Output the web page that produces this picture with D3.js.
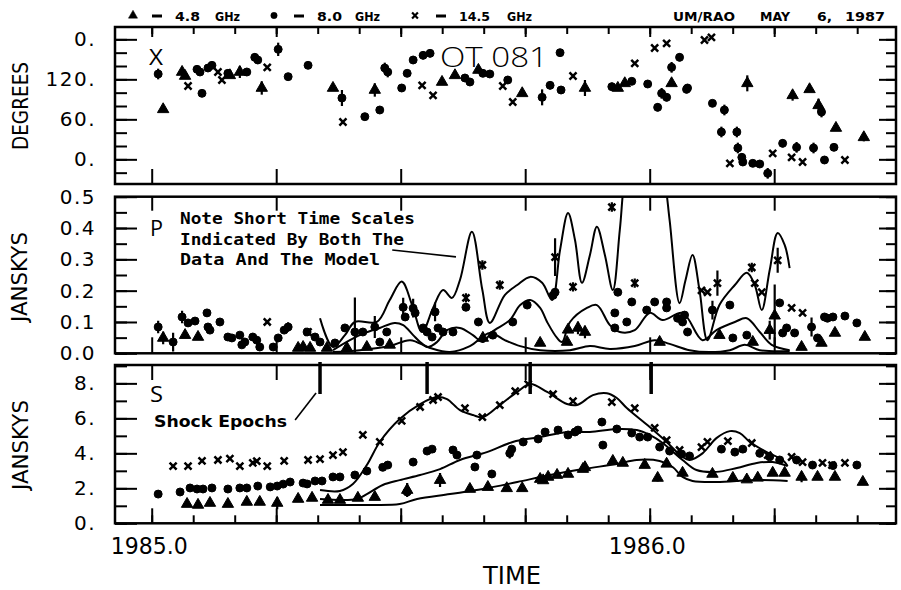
<!DOCTYPE html>
<html>
<head>
<meta charset="utf-8">
<script src="https://cdn.jsdelivr.net/npm/d3@7"></script>
<style>
  body { margin: 0; background: #fff; }
  svg { display: block; }
</style>
</head>
<body>
<div id="chart"></div>
<script>
// ---------- data (time in decimal years) ----------
const shockEpochs = [1985.338, 1985.553, 1985.760, 1986.003];

// x axis ticks
const monthTicks = d3.range(18).map(i => 1985 + i / 12);
const quarterTicks = [1985, 1985.25, 1985.5, 1985.75, 1986, 1986.25];
const yearTicks = [1985, 1986];
const yearLabels = ["1985.0", "1986.0"];

// y axis ticks
const degMinor = [-20, 0, 20, 40, 60, 80, 100, 120, 140, 160, 180];
const degMajor = [0, 60, 120, 180];
const degLabels = ["0.", "60.", "120.", "0."];
const polMinor = [0, 0.05, 0.1, 0.15, 0.2, 0.25, 0.3, 0.35, 0.4, 0.45, 0.5];
const polMajor = [0, 0.1, 0.2, 0.3, 0.4, 0.5];
const polLabels = ["0.0", "0.1", "0.2", "0.3", "0.4", "0.5"];
const fluxMinor = [0, 1, 2, 3, 4, 5, 6, 7, 8, 9];
const fluxMajor = [0, 2, 4, 6, 8];
const fluxLabels = ["0.", "2.", "4.", "6.", "8."];

// position angle (degrees): [time, value, error]
const evpa48 = [
  [1985.023, 75], [1985.061, 131], [1985.067, 125], [1985.157, 126], [1985.177, 131, 9],
  [1985.221, 107, 10], [1985.364, 107], [1985.448, 104, 10], [1985.583, 116], [1985.609, 126],
  [1985.656, 134], [1985.744, 99], [1985.870, 107, 12], [1985.936, 107], [1985.950, 114],
  [1986.044, 114], [1986.196, 114, 12], [1986.287, 96, 8], [1986.321, 105], [1986.339, 81, 10],
  [1986.374, 47], [1986.430, 33, 6]
];
const evpa80 = [
  [1985.013, 128, 8], [1985.091, 135, 5], [1985.097, 131, 5], [1985.101, 99, 5], [1985.113, 137, 5],
  [1985.121, 141, 5], [1985.153, 129, 5], [1985.191, 131], [1985.207, 153, 6], [1985.213, 149, 6],
  [1985.254, 165, 10], [1985.274, 124, 5], [1985.314, 141, 5], [1985.382, 92, 12], [1985.428, 64, 5],
  [1985.458, 74, 5], [1985.468, 137, 8], [1985.474, 131, 8], [1985.502, 107, 5], [1985.513, 129, 5],
  [1985.525, 149, 6], [1985.545, 156, 6], [1985.559, 159, 6], [1985.629, 122, 6], [1985.639, 116, 5],
  [1985.665, 129, 5], [1985.679, 128, 5], [1985.715, 119, 6], [1985.784, 93, 12], [1985.800, 111, 6],
  [1985.820, 160], [1985.822, 104, 6], [1985.924, 109, 6], [1985.964, 117, 5], [1985.996, 113, 5],
  [1986.016, 78, 6], [1986.024, 99, 8], [1986.034, 93, 6], [1986.044, 138, 8], [1986.060, 153, 6],
  [1986.074, 105, 6], [1986.076, 107, 6], [1986.126, 84, 5], [1986.144, 41, 8], [1986.150, 74, 8],
  [1986.175, 41, 8], [1986.177, 17, 8], [1986.185, 3, 6], [1986.187, -4, 6], [1986.207, -6, 5],
  [1986.221, -7, 5], [1986.237, -21, 8], [1986.267, 24, 6], [1986.295, 18, 8], [1986.329, 17, 8],
  [1986.345, 71, 8], [1986.351, -1, 5], [1986.370, 18, 5]
];
const evpa145 = [
  [1985.073, 110], [1985.133, 131], [1985.141, 119], [1985.232, 138], [1985.384, 56],
  [1985.543, 111], [1985.565, 96], [1985.705, 110], [1985.725, 86], [1985.846, 125],
  [1985.970, 144], [1986.010, 167], [1986.034, 174], [1986.110, 179], [1986.124, 183],
  [1986.161, -6], [1986.247, 9], [1986.285, 3], [1986.307, -4], [1986.392, -1]
];

// polarized flux (Jy)
const pol48 = [
  [1985.023, 0.049, 0.02], [1985.067, 0.058], [1985.093, 0.052], [1985.294, 0.017], [1985.304, 0.020],
  [1985.318, 0.017], [1985.352, 0.017], [1985.392, 0.017], [1985.432, 0.020], [1985.478, 0.027],
  [1985.665, 0.049], [1985.780, 0.033], [1985.834, 0.036], [1985.836, 0.075], [1985.856, 0.081, 0.02],
  [1985.870, 0.068, 0.02], [1986.020, 0.036], [1986.140, 0.058], [1986.207, 0.036], [1986.241, 0.074, 0.03],
  [1986.251, 0.120, 0.10], [1986.305, 0.020], [1986.345, 0.033], [1986.372, 0.065], [1986.432, 0.052]
];
const pol80 = [
  [1985.013, 0.084, 0.02], [1985.043, 0.036, 0.03], [1985.061, 0.116, 0.02], [1985.073, 0.097], [1985.087, 0.103],
  [1985.111, 0.129, 0.01], [1985.113, 0.084], [1985.117, 0.074], [1985.137, 0.100, 0.01], [1985.153, 0.052],
  [1985.161, 0.049], [1985.177, 0.058], [1985.181, 0.027], [1985.187, 0.036], [1985.203, 0.052],
  [1985.211, 0.042], [1985.217, 0.020], [1985.244, 0.020], [1985.254, 0.049], [1985.266, 0.074],
  [1985.274, 0.084, 0.015], [1985.312, 0.068], [1985.328, 0.052], [1985.338, 0.036], [1985.368, 0.033],
  [1985.388, 0.081], [1985.408, 0.068, 0.11], [1985.424, 0.068], [1985.448, 0.084, 0.035], [1985.458, 0.036],
  [1985.472, 0.068], [1985.505, 0.147, 0.03], [1985.509, 0.116], [1985.525, 0.144, 0.03], [1985.529, 0.129],
  [1985.545, 0.081], [1985.553, 0.068], [1985.563, 0.052], [1985.569, 0.132, 0.03], [1985.575, 0.081],
  [1985.585, 0.068], [1985.605, 0.068], [1985.631, 0.147], [1985.656, 0.100], [1985.685, 0.058],
  [1985.725, 0.100], [1985.754, 0.154], [1985.806, 0.185], [1985.810, 0.195], [1985.930, 0.081],
  [1985.930, 0.129], [1985.936, 0.195], [1985.954, 0.100], [1985.964, 0.164], [1985.994, 0.138],
  [1986.010, 0.164], [1986.034, 0.164], [1986.034, 0.145], [1986.056, 0.112], [1986.066, 0.100],
  [1986.070, 0.122], [1986.076, 0.068], [1986.126, 0.138, 0.03], [1986.161, 0.154], [1986.167, 0.049],
  [1986.195, 0.058], [1986.261, 0.161], [1986.267, 0.065], [1986.275, 0.081], [1986.291, 0.065],
  [1986.325, 0.084, 0.03], [1986.337, 0.049], [1986.351, 0.116], [1986.357, 0.112], [1986.368, 0.116],
  [1986.392, 0.119], [1986.416, 0.097]
];
const pol145 = [
  [1985.232, 0.100], [1985.314, 0.068], [1985.631, 0.177, 0.015], [1985.664, 0.282, 0.015], [1985.699, 0.218, 0.015],
  [1985.810, 0.307, 0.06], [1985.846, 0.212, 0.015], [1985.924, 0.467, 0.015], [1985.970, 0.224, 0.015],
  [1986.104, 0.201], [1986.116, 0.195], [1986.136, 0.224, 0.04], [1986.205, 0.274, 0.015],
  [1986.211, 0.224], [1986.225, 0.195], [1986.257, 0.297, 0.04], [1986.285, 0.145], [1986.307, 0.129]
];

// polarized flux model curves
const polModel145 = [
  [1985.338, 0.112], [1985.364, 0.020], [1985.388, 0.058], [1985.408, 0.100], [1985.452, 0.100],
  [1985.478, 0.170], [1985.502, 0.229], [1985.523, 0.154], [1985.543, 0.068], [1985.565, 0.145],
  [1985.585, 0.202], [1985.603, 0.177], [1985.619, 0.234], [1985.643, 0.388], [1985.664, 0.202],
  [1985.679, 0.097], [1985.709, 0.186], [1985.734, 0.218], [1985.760, 0.244], [1985.784, 0.225],
  [1985.804, 0.170], [1985.820, 0.330], [1985.836, 0.448], [1985.850, 0.362], [1985.864, 0.225],
  [1985.880, 0.314], [1985.894, 0.404], [1985.910, 0.314], [1985.926, 0.202], [1985.940, 0.394],
  [1985.952, 0.585], [1985.980, 0.745], [1986.010, 0.680], [1986.030, 0.553], [1986.040, 0.425],
  [1986.060, 0.160], [1986.072, 0.234], [1986.086, 0.314], [1986.100, 0.202], [1986.116, 0.042],
  [1986.140, 0.154], [1986.171, 0.218], [1986.195, 0.257], [1986.211, 0.218], [1986.225, 0.138],
  [1986.241, 0.266], [1986.257, 0.384], [1986.271, 0.346], [1986.281, 0.272]
];
const polModel80 = [
  [1985.364, 0.010], [1985.398, 0.042], [1985.428, 0.065], [1985.458, 0.081], [1985.488, 0.097],
  [1985.505, 0.090], [1985.525, 0.058], [1985.539, 0.036], [1985.555, 0.020], [1985.573, 0.036],
  [1985.593, 0.074], [1985.619, 0.081], [1985.645, 0.058], [1985.665, 0.036], [1985.683, 0.068],
  [1985.719, 0.106], [1985.740, 0.154], [1985.760, 0.170], [1985.780, 0.145], [1985.794, 0.100],
  [1985.814, 0.049], [1985.824, 0.036], [1985.840, 0.100], [1985.874, 0.145], [1985.894, 0.154],
  [1985.920, 0.090], [1985.940, 0.068], [1985.970, 0.074], [1986.000, 0.129], [1986.026, 0.106],
  [1986.066, 0.129], [1986.106, 0.042], [1986.134, 0.074], [1986.171, 0.100], [1986.195, 0.112],
  [1986.221, 0.068], [1986.245, 0.027], [1986.281, 0.010]
];
const polModel48 = [
  [1985.364, 0.004], [1985.418, 0.010], [1985.478, 0.023], [1985.519, 0.042], [1985.559, 0.017],
  [1985.599, 0.004], [1985.639, 0.023], [1985.679, 0.065], [1985.709, 0.042], [1985.740, 0.023],
  [1985.780, 0.010], [1985.840, 0.010], [1985.880, 0.023], [1985.920, 0.014], [1985.970, 0.023],
  [1986.010, 0.042], [1986.040, 0.030], [1986.080, 0.010], [1986.120, 0.004], [1986.161, 0.010],
  [1986.191, 0.027], [1986.221, 0.010], [1986.281, 0.007]
];

// total flux (Jy)
const flux48 = [
  [1985.071, 1.10], [1985.093, 1.05], [1985.117, 1.16], [1985.153, 1.10], [1985.191, 1.22],
  [1985.217, 1.22], [1985.252, 1.16, 0.35], [1985.294, 1.39], [1985.322, 1.45], [1985.354, 1.33],
  [1985.378, 1.33], [1985.414, 1.45], [1985.448, 1.50], [1985.513, 1.90, 0.4], [1985.579, 2.47, 0.4],
  [1985.639, 1.96], [1985.675, 2.07], [1985.713, 2.00], [1985.744, 2.00], [1985.780, 2.53],
  [1985.786, 2.45], [1985.796, 2.65], [1985.814, 2.76], [1985.836, 2.82], [1985.866, 3.10],
  [1985.870, 3.20], [1985.926, 3.56], [1985.946, 3.45], [1985.990, 3.33], [1986.016, 2.59, 0.2],
  [1986.034, 3.40], [1986.066, 2.88], [1986.126, 2.82], [1986.167, 2.59], [1986.195, 2.50],
  [1986.217, 2.60], [1986.247, 2.88], [1986.271, 2.88], [1986.305, 2.65, 0.3], [1986.337, 2.65],
  [1986.372, 2.65], [1986.428, 2.36]
];
const flux80 = [
  [1985.013, 1.67], [1985.057, 1.79], [1985.077, 2.02], [1985.091, 1.96], [1985.103, 1.96],
  [1985.121, 2.02], [1985.153, 1.96], [1985.177, 2.02], [1985.191, 2.02], [1985.213, 2.13],
  [1985.238, 2.08], [1985.252, 2.13], [1985.264, 2.24], [1985.278, 2.36], [1985.304, 2.30],
  [1985.312, 2.25], [1985.328, 2.42], [1985.342, 2.42], [1985.364, 2.65], [1985.378, 2.65],
  [1985.408, 2.76], [1985.432, 2.99], [1985.464, 3.20], [1985.474, 3.33], [1985.513, 1.79, 0.15],
  [1985.525, 3.50], [1985.553, 4.13], [1985.563, 4.24], [1985.605, 4.19], [1985.613, 3.90],
  [1985.649, 3.22], [1985.653, 3.90], [1985.683, 2.82, 0.2], [1985.719, 4.00, 0.3], [1985.723, 4.24],
  [1985.746, 4.65], [1985.776, 4.82], [1985.790, 5.22], [1985.816, 5.33], [1985.836, 5.05],
  [1985.850, 5.22], [1985.856, 5.33], [1985.904, 5.79, 0.2], [1985.906, 4.47], [1985.934, 5.39],
  [1985.964, 5.16], [1985.980, 4.93], [1985.996, 4.93], [1986.020, 4.36], [1986.040, 4.13],
  [1986.064, 3.96], [1986.080, 3.85], [1986.144, 4.24], [1986.171, 4.07], [1986.187, 4.24],
  [1986.221, 4.00], [1986.241, 3.80], [1986.261, 3.62], [1986.295, 3.62], [1986.327, 3.33],
  [1986.368, 3.30], [1986.416, 3.33]
];
const flux145 = [
  [1985.043, 3.27], [1985.073, 3.27], [1985.101, 3.57], [1985.133, 3.62], [1985.157, 3.70],
  [1985.177, 3.27], [1985.203, 3.45], [1985.211, 3.55], [1985.232, 3.27], [1985.266, 3.57],
  [1985.314, 3.62], [1985.338, 3.67], [1985.364, 3.90], [1985.384, 4.07], [1985.424, 5.05],
  [1985.458, 4.65], [1985.502, 5.85], [1985.539, 6.65], [1985.565, 7.05], [1985.575, 7.22],
  [1985.629, 6.58], [1985.664, 6.07], [1985.699, 6.76], [1985.730, 7.56], [1985.756, 7.96],
  [1985.806, 7.39], [1985.846, 6.99], [1985.924, 6.93], [1985.970, 6.58], [1986.010, 5.45],
  [1986.034, 4.76], [1986.060, 4.19], [1986.104, 4.36], [1986.116, 4.65], [1986.157, 4.70],
  [1986.205, 4.59], [1986.237, 3.90], [1986.285, 3.79], [1986.307, 3.50], [1986.347, 3.45],
  [1986.366, 3.33], [1986.392, 3.45]
];

// total flux model curves
const fluxModel145 = [
  [1985.338, 1.90], [1985.378, 1.85], [1985.404, 2.25], [1985.432, 3.33], [1985.458, 4.65],
  [1985.498, 5.96], [1985.539, 6.82], [1985.573, 7.22], [1985.593, 7.10], [1985.619, 6.47],
  [1985.645, 6.19], [1985.665, 6.07], [1985.699, 6.76], [1985.734, 7.51], [1985.760, 7.96],
  [1985.794, 7.51], [1985.834, 6.82], [1985.854, 6.76], [1985.886, 7.33], [1985.914, 7.44],
  [1985.934, 7.16], [1985.954, 6.59], [1986.000, 5.50], [1986.034, 4.65], [1986.066, 3.79],
  [1986.080, 3.62], [1986.106, 4.00], [1986.134, 4.87], [1986.161, 5.27], [1986.181, 5.16],
  [1986.201, 4.65], [1986.235, 4.07], [1986.267, 3.62], [1986.277, 3.27]
];
const fluxModel80 = [
  [1985.338, 1.39], [1985.412, 1.39], [1985.432, 1.67], [1985.464, 2.19], [1985.498, 2.47],
  [1985.539, 2.76], [1985.579, 3.10], [1985.619, 3.62], [1985.673, 4.07], [1985.725, 4.65],
  [1985.780, 4.93], [1985.834, 5.22], [1985.880, 5.22], [1985.934, 5.39], [1985.974, 5.33],
  [1986.000, 5.05], [1986.026, 4.59], [1986.066, 3.62], [1986.094, 3.05], [1986.134, 2.94],
  [1986.175, 3.16], [1986.215, 3.45], [1986.247, 3.50], [1986.277, 3.27]
];
const fluxModel48 = [
  [1985.338, 1.05], [1985.432, 1.05], [1985.498, 1.10], [1985.533, 1.39], [1985.599, 1.67],
  [1985.665, 1.96], [1985.734, 2.36], [1985.800, 2.76], [1985.866, 3.10], [1985.934, 3.39],
  [1985.974, 3.62], [1986.020, 3.56], [1986.046, 3.22], [1986.066, 2.65], [1986.086, 2.42],
  [1986.134, 2.36], [1986.215, 2.47], [1986.277, 2.42]
];

// annotation leader lines (data units)
const noteLeader = [[1985.483, 0.330], [1985.611, 0.308]];
const shockLeader = [[1985.288, 5.90], [1985.330, 7.45]];

// ---------- drawing ----------
const W = 901, H = 590;
const svg = d3.select("#chart").append("svg")
    .attr("width", W)
    .attr("height", H)
    .attr("viewBox", [0, 0, W, H]);

svg.append("rect").attr("width", W).attr("height", H).attr("fill", "#fff");

const x = d3.scaleLinear().domain([1984.9263, 1986.4946]).range([115, 896]);

const panels = [
  {id: "deg", top: 27, bottom: 184, domain: [-37, 198.5], minor: degMinor, major: degMajor, labels: degLabels,
   topMinor: 7, topMajor: 10, bottomMinor: 0, bottomMajor: 15},
  {id: "pol", top: 196.7, bottom: 353.3, domain: [0, 0.5], minor: polMinor, major: polMajor, labels: polLabels,
   topMinor: 0, topMajor: 14, bottomMinor: 0, bottomMajor: 16},
  {id: "flux", top: 365, bottom: 523.3, domain: [0, 9.05], minor: fluxMinor, major: fluxMajor, labels: fluxLabels,
   topMinor: 0, topMajor: 15, bottomMinor: 8, bottomMajor: 15}
];

const labelFont = "'DejaVu Sans', 'Liberation Sans', sans-serif";

function styleAxis(g) {
  g.select(".domain").remove();
  g.selectAll(".tick line").attr("stroke", "#000").attr("stroke-width", 2);
  g.attr("font-family", labelFont).attr("font-size", 20);
  g.selectAll(".tick text").attr("fill", "#000").attr("letter-spacing", 1.5);
}

panels.forEach(p => {
  p.y = d3.scaleLinear().domain(p.domain).range([p.bottom, p.top]);
  const g = svg.append("g");

  // left ticks + labels
  g.append("g").attr("transform", "translate(115,0)")
      .call(d3.axisLeft(p.y).tickValues(p.minor).tickSize(-12).tickFormat(""))
      .call(styleAxis);
  g.append("g").attr("transform", "translate(115,0)")
      .call(d3.axisLeft(p.y).tickValues(p.major).tickSize(-22).tickPadding(19)
        .tickFormat((d, i) => p.labels[i]))
      .call(styleAxis);

  // right ticks
  g.append("g").attr("transform", "translate(896,0)")
      .call(d3.axisRight(p.y).tickValues(p.minor).tickSize(-10).tickFormat(""))
      .call(styleAxis);
  g.append("g").attr("transform", "translate(896,0)")
      .call(d3.axisRight(p.y).tickValues(p.major).tickSize(-17).tickFormat(""))
      .call(styleAxis);

  // top ticks
  if (p.topMinor) {
    g.append("g").attr("transform", `translate(0,${p.top})`)
        .call(d3.axisTop(x).tickValues(monthTicks).tickSize(-p.topMinor).tickFormat(""))
        .call(styleAxis);
  }
  g.append("g").attr("transform", `translate(0,${p.top})`)
      .call(d3.axisTop(x).tickValues(quarterTicks).tickSize(-p.topMajor).tickFormat(""))
      .call(styleAxis);

  // bottom ticks
  if (p.bottomMinor) {
    g.append("g").attr("transform", `translate(0,${p.bottom})`)
        .call(d3.axisBottom(x).tickValues(monthTicks).tickSize(-p.bottomMinor).tickFormat(""))
        .call(styleAxis);
  }
  g.append("g").attr("transform", `translate(0,${p.bottom})`)
      .call(d3.axisBottom(x).tickValues(quarterTicks).tickSize(-p.bottomMajor).tickFormat(""))
      .call(styleAxis);

  // clip + frame
  svg.append("clipPath").attr("id", "clip-" + p.id)
    .append("rect").attr("x", 115).attr("y", p.top).attr("width", 781).attr("height", p.bottom - p.top);
  p.plot = svg.append("g").attr("clip-path", `url(#clip-${p.id})`);

  svg.append("rect")
      .attr("x", 115).attr("y", p.top)
      .attr("width", 781).attr("height", p.bottom - p.top)
      .attr("fill", "none").attr("stroke", "#000").attr("stroke-width", 2.5);
});

// year labels under the last panel
svg.append("g").attr("transform", `translate(0,${panels[2].bottom})`)
    .call(d3.axisBottom(x).tickValues(yearTicks).tickSize(0).tickPadding(14)
      .tickFormat((d, i) => yearLabels[i]))
    .call(g => {
      g.select(".domain").remove();
      g.attr("font-family", labelFont).attr("font-size", 23);
      g.selectAll(".tick text").attr("fill", "#000").attr("dx", -3)
        .attr("textLength", 77).attr("lengthAdjust", "spacingAndGlyphs");
    });

const triSym = d3.symbol(d3.symbolTriangle, 56);
const dotSym = d3.symbol(d3.symbolCircle, 50);
const timesSym = d3.symbol(d3.symbolTimes, 34);

function drawSeries(p, data, kind) {
  const g = p.plot.append("g");
  g.selectAll("line")
    .data(data.filter(d => d[2]))
    .join("line")
      .attr("x1", d => x(d[0])).attr("x2", d => x(d[0]))
      .attr("y1", d => p.y(d[1] - d[2])).attr("y2", d => p.y(d[1] + d[2]))
      .attr("stroke", "#000").attr("stroke-width", 2.2);
  const sym = kind === "tri" ? triSym : kind === "dot" ? dotSym : timesSym;
  g.selectAll("path")
    .data(data)
    .join("path")
      .attr("transform", d => `translate(${x(d[0])},${p.y(d[1])})`)
      .attr("d", sym)
      .attr("fill", kind === "times" ? "none" : "#000")
      .attr("stroke", "#000")
      .attr("stroke-width", kind === "times" ? 2.5 : 1);
}

function drawModel(p, data) {
  p.plot.append("path")
      .datum(data)
      .attr("fill", "none")
      .attr("stroke", "#000")
      .attr("stroke-width", 2)
      .attr("d", d3.line()
        .x(d => x(d[0]))
        .y(d => p.y(d[1]))
        .curve(d3.curveCatmullRom.alpha(0.5)));
}

const [pDeg, pPol, pFlux] = panels;

drawSeries(pDeg, evpa48, "tri");
drawSeries(pDeg, evpa80, "dot");
drawSeries(pDeg, evpa145, "times");

[polModel145, polModel80, polModel48].forEach(m => drawModel(pPol, m));
drawSeries(pPol, pol48, "tri");
drawSeries(pPol, pol80, "dot");
drawSeries(pPol, pol145, "times");

[fluxModel145, fluxModel80, fluxModel48].forEach(m => drawModel(pFlux, m));
drawSeries(pFlux, flux48, "tri");
drawSeries(pFlux, flux80, "dot");
drawSeries(pFlux, flux145, "times");

// shock epoch bars
svg.append("g").selectAll("line")
  .data(shockEpochs)
  .join("line")
    .attr("x1", d => x(d)).attr("x2", d => x(d))
    .attr("y1", pFlux.top - 3).attr("y2", pFlux.top + 29)
    .attr("stroke", "#000").attr("stroke-width", 3.5);

// leader lines
svg.append("line")
    .attr("x1", x(noteLeader[0][0])).attr("y1", pPol.y(noteLeader[0][1]))
    .attr("x2", x(noteLeader[1][0])).attr("y2", pPol.y(noteLeader[1][1]))
    .attr("stroke", "#000").attr("stroke-width", 1.6);
svg.append("line")
    .attr("x1", x(shockLeader[0][0])).attr("y1", pFlux.y(shockLeader[0][1]))
    .attr("x2", x(shockLeader[1][0])).attr("y2", pFlux.y(shockLeader[1][1]))
    .attr("stroke", "#000").attr("stroke-width", 1.6);

// ---------- text ----------
function label(txt, px, py, opts = {}) {
  const t = svg.append("text")
      .attr("x", px).attr("y", py)
      .attr("font-family", opts.family || labelFont)
      .attr("font-size", opts.size || 12)
      .attr("font-weight", opts.weight || "normal")
      .attr("text-anchor", opts.anchor || "start")
      .attr("fill", "#000")
      .text(txt);
  if (opts.len) t.attr("textLength", opts.len).attr("lengthAdjust", "spacingAndGlyphs");
  if (opts.rotate) t.attr("transform", `rotate(-90,${px},${py})`);
  return t;
}

// legend row
const legendSyms = [
  [133, d3.symbol(d3.symbolTriangle, 36), "#000"],
  [274, d3.symbol(d3.symbolCircle, 32), "#000"],
  [415, d3.symbol(d3.symbolTimes, 24), "none"]
];
legendSyms.forEach(([lx, s, f]) => {
  svg.append("path")
      .attr("transform", `translate(${lx},15.5)`)
      .attr("d", s)
      .attr("fill", f).attr("stroke", "#000").attr("stroke-width", f === "none" ? 2.2 : 0.5);
});
[152, 294, 436].forEach(lx => {
  svg.append("line").attr("x1", lx).attr("x2", lx + 10).attr("y1", 16).attr("y2", 16)
      .attr("stroke", "#000").attr("stroke-width", 3);
});
const bold = {weight: "bold", size: 13};
label("4.8", 175, 21, {...bold, len: 25});
label("GHz", 215, 21, {...bold, len: 25});
label("8.0", 317, 21, {...bold, len: 25});
label("GHz", 355, 21, {...bold, len: 25});
label("14.5", 459, 21, {...bold, len: 31});
label("GHz", 507, 21, {...bold, len: 25});
label("UM/RAO", 673, 21, {...bold, len: 62});
label("MAY", 760, 21, {...bold, len: 30});
label("6,", 817, 21, {...bold, len: 15});
label("1987", 845, 21, {...bold, len: 40});

// panel letters and source name
const thin = {family: "'Open Sans', 'Roboto', 'Lato', sans-serif", weight: 400, size: 21};
label("X", 149, 65, {...thin, len: 14});
label("P", 150, 236, {...thin, len: 13});
label("S", 150, 402, {...thin, len: 13});
label("OT 081", 440, 67, {...thin, weight: 300, size: 28, len: 108});

// annotations
const mono = {family: "'DejaVu Sans Mono', 'Liberation Mono', monospace", weight: "bold", size: 15.5};
label("Note Short Time Scales", 180, 223.5, {...mono, len: 235});
label("Indicated By Both The", 180, 244.5, {...mono, len: 224});
label("Data And The Model", 180, 265, {...mono, len: 200});
label("Shock Epochs", 154, 427, {weight: "bold", size: 15, len: 133});

// axis titles
label("DEGREES", 28, 106, {size: 22, anchor: "middle", rotate: true, len: 88});
label("JANSKYS", 27, 277, {size: 22, anchor: "middle", rotate: true, len: 90});
label("JANSKYS", 28, 445, {size: 22, anchor: "middle", rotate: true, len: 90});
label("TIME", 512, 584, {size: 25, anchor: "middle", len: 58});
</script>
</body>
</html>
